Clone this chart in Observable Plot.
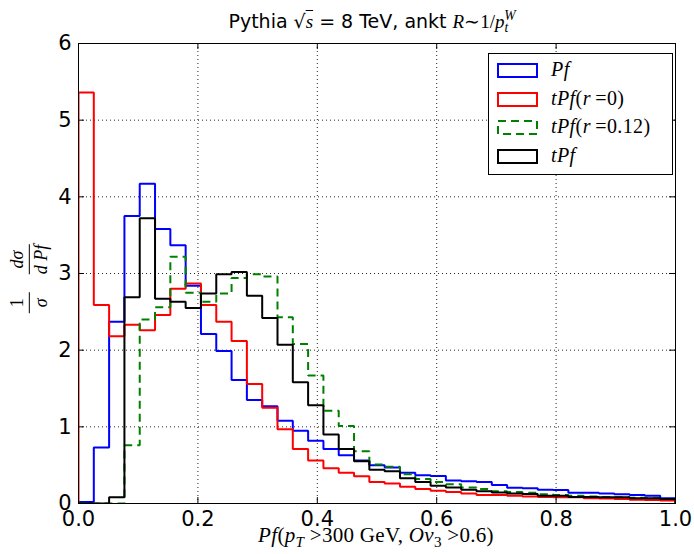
<!DOCTYPE html>
<html>
<head>
<meta charset="utf-8">
<script src="https://cdn.jsdelivr.net/npm/d3@7"></script>
<script src="https://cdn.jsdelivr.net/npm/@observablehq/plot@0.6"></script>
<style>
  body { margin: 0; background: #fff; }
  #wrap { position: relative; width: 694px; height: 554px; font-family: "DejaVu Sans", sans-serif; color: #000; overflow: hidden; }
  #title { position: absolute; left: 372px; top: 12px; transform: translateX(-50%); font-size: 19px; line-height: 1; white-space: nowrap; }
  .m { font-family: "Liberation Serif", serif; font-style: italic; }
  .r { font-family: "Liberation Serif", serif; font-style: normal; }
  .sb { font-size: 0.72em; vertical-align: -0.3em; line-height: 0; }
  .sp { font-size: 0.72em; vertical-align: 0.55em; line-height: 0; }
  .ov { text-decoration: overline; }
  #chart { position: absolute; left: 0; top: 35px; }
  #chart svg { display: block; }
  #xlab { position: absolute; left: 376px; top: 525px; transform: translateX(-50%); font-family: "Liberation Serif", serif; font-size: 21px; line-height: 1; white-space: nowrap; letter-spacing: 0.3px; }
  #xlab i { font-style: italic; }
  #ylab { position: absolute; left: 29px; top: 276px; transform: translate(-50%, -50%) rotate(-90deg); font-family: "Liberation Serif", serif; font-style: italic; font-size: 18px; white-space: nowrap; display: flex; align-items: center; }
  .frac { display: inline-flex; flex-direction: column; align-items: center; margin: 0 6px; line-height: 1.15; }
  .num { border-bottom: 1.4px solid #000; padding: 0 6px 1px 6px; }
  .den { padding: 1px 6px 0 6px; }
  #legend { position: absolute; left: 488px; top: 53px; width: 183px; height: 120px; border: 1px solid #000; background: #fff; }
  .row { position: absolute; left: 0; height: 20px; display: flex; align-items: center; white-space: nowrap; }
  .row svg { position: absolute; left: 8px; top: 3px; }
  .row .lt { position: absolute; left: 62px; top: -1px; font-family: "Liberation Serif", serif; font-size: 20px; line-height: 20px; letter-spacing: 0.4px; }
  .row .lt i { font-style: italic; }
</style>
</head>
<body>
<div id="wrap">
  <div id="title">Pythia √<span class="m ov">s</span> = 8 TeV, ankt <span class="m">R</span><span class="r">∼1/</span><span class="m">p</span><span class="m sb">t</span><span class="m sp" style="margin-left:-0.3em">W</span></div>
  <div id="chart"></div>
  <div id="ylab"><span class="frac"><span class="num" style="font-style:normal">1</span><span class="den">σ</span></span><span class="frac"><span class="num">dσ</span><span class="den">d Pf</span></span></div>
  <div id="xlab"><i>Pf</i>(<i>p</i><span class="sb"><i>T</i></span>&nbsp;&gt;300 GeV, <i>Ov</i><span class="sb">3</span>&nbsp;&gt;0.6)</div>
  <div id="legend"></div>
</div>
<script>
// ---- data ----
const xMin = 0, xMax = 1, binCount = 39;
const xTicks = [0, 0.2, 0.4, 0.6, 0.8, 1.0];
const yTicks = [0, 1, 2, 3, 4, 5, 6];
const xGrid = [0.2, 0.4, 0.6, 0.8];
const yGrid = [1, 2, 3, 4, 5];

const seriesNames = ["Pf", "tPf(r=0)", "tPf(r=0.12)", "tPf"];
const seriesColors = ["#0000ff", "#ff0000", "#008000", "#000000"];
const seriesDash = [null, null, "8,5", null];

const pf = [0.02, 0.73, 2.37, 3.75, 4.17, 3.58, 3.37, 2.84, 2.21, 1.99,
            1.61, 1.35, 1.27, 1.08, 0.95, 0.82, 0.71, 0.63, 0.56, 0.50,
            0.47, 0.40, 0.37, 0.36, 0.30, 0.29, 0.28, 0.24, 0.205, 0.20,
            0.18, 0.175, 0.14, 0.14, 0.13, 0.12, 0.11, 0.10, 0.07];
const tpfR0 = [5.36, 2.59, 2.18, 2.33, 2.26, 2.46, 2.80, 2.87, 2.59, 2.37,
               2.12, 1.56, 1.25, 0.97, 0.71, 0.56, 0.46, 0.40, 0.355, 0.28,
               0.26, 0.22, 0.19, 0.165, 0.15, 0.13, 0.11, 0.11, 0.10, 0.09,
               0.085, 0.08, 0.08, 0.07, 0.065, 0.06, 0.05, 0.045, 0.04];
const tpfR012 = [0, 0, 0, 0.76, 2.40, 2.56, 3.22, 2.75, 2.63, 2.74,
                 2.94, 2.99, 2.96, 2.43, 2.08, 1.67, 1.21, 1.01, 0.68, 0.51,
                 0.48, 0.38, 0.32, 0.28, 0.25, 0.21, 0.19, 0.16, 0.15, 0.14,
                 0.12, 0.11, 0.10, 0.09, 0.085, 0.08, 0.075, 0.07, 0.06];
const tpf = [0, 0, 0.08, 2.69, 3.72, 2.67, 2.63, 2.55, 2.74, 2.99,
             3.02, 2.71, 2.42, 2.07, 1.58, 1.28, 0.90, 0.71, 0.55, 0.44,
             0.42, 0.33, 0.28, 0.23, 0.21, 0.18, 0.16, 0.145, 0.13, 0.125,
             0.10, 0.10, 0.085, 0.085, 0.08, 0.08, 0.07, 0.07, 0.06];
const seriesValues = [pf, tpfR0, tpfR012, tpf];

// ---- build step outlines (histtype="step") ----
function stepPoints(vals) {
  const pts = [{x: xMin, y: 0}];
  vals.forEach((v, k) => pts.push({x: xMin + k * (xMax - xMin) / binCount, y: v}));
  pts.push({x: xMax, y: 0});
  return pts;
}

const W = 694, H = 519, mT = 8, mB = 51, mL = 78, mR = 19;
const frameH = H - mT - mB, frameW = W - mL - mR, tick = 6;

const lines = seriesValues.map((vals, i) =>
  Plot.line(stepPoints(vals), {
    x: "x", y: "y", curve: "step-after",
    stroke: seriesColors[i], strokeWidth: 2,
    strokeDasharray: seriesDash[i] || undefined,
    strokeLinejoin: "miter", strokeLinecap: "butt",
    clip: true
  })
);

const chart = Plot.plot({
  width: W, height: H,
  marginTop: mT, marginBottom: mB, marginLeft: mL, marginRight: mR,
  style: {fontFamily: "'DejaVu Sans', sans-serif", fontSize: "21px", background: "transparent", color: "black", overflow: "visible"},
  x: {domain: [xMin, xMax], ticks: xTicks, tickFormat: d3.format(".1f"), tickSize: 0, tickPadding: 8, label: null},
  y: {domain: [0, 6], ticks: yTicks, tickFormat: d3.format("d"), tickSize: 0, tickPadding: 7, label: null},
  marks: [
    Plot.ruleX(xGrid, {x: d => d, stroke: "black", strokeOpacity: 0.85, strokeDasharray: "1,3"}),
    Plot.ruleY(yGrid, {y: d => d, stroke: "black", strokeOpacity: 0.85, strokeDasharray: "1,3"}),
    ...lines,
    Plot.ruleX(xTicks, {x: d => d, insetTop: frameH - tick, stroke: "black"}),
    Plot.ruleX(xTicks, {x: d => d, insetBottom: frameH - tick, stroke: "black"}),
    Plot.ruleY(yTicks, {y: d => d, insetRight: frameW - tick, stroke: "black"}),
    Plot.ruleY(yTicks, {y: d => d, insetLeft: frameW - tick, stroke: "black"}),
    Plot.frame({stroke: "black", strokeWidth: 1})
  ]
});
document.getElementById("chart").appendChild(chart);

// ---- legend ----
function mathHTML(s) {
  return s.replace(/[A-Za-z]/g, c => `<i>${c}</i>`).replace(/=/g, "&thinsp;=");
}
const rowCenters = [16, 44.5, 73, 102];
const legend = document.getElementById("legend");
seriesNames.forEach((name, i) => {
  const row = document.createElement("div");
  row.className = "row";
  row.style.top = (rowCenters[i] - 10) + "px";
  const dash = seriesDash[i] ? `stroke-dasharray="${seriesDash[i]}"` : "";
  row.innerHTML = `<svg width="41" height="15"><rect x="1" y="1" width="39" height="13" fill="none" stroke="${seriesColors[i]}" stroke-width="2" ${dash}/></svg><span class="lt">${mathHTML(name)}</span>`;
  legend.appendChild(row);
});
</script>
</body>
</html>
